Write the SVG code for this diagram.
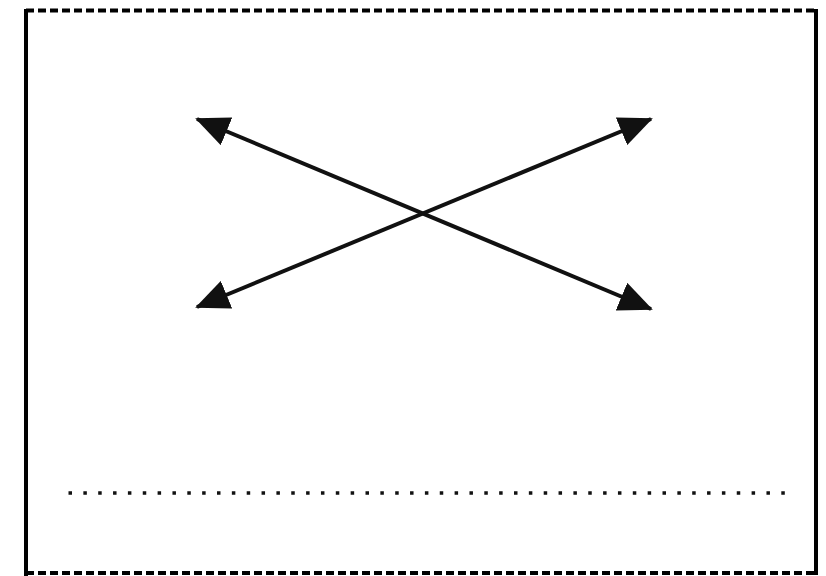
<svg xmlns="http://www.w3.org/2000/svg" width="826" height="576" viewBox="0 0 826 576">
<defs>
<style>
.solid{stroke:#000;stroke-width:4;fill:none}
.dash{stroke:#000;stroke-width:4;fill:none;stroke-dasharray:8 4}
.arrow{stroke:#111;stroke-width:4;fill:none;marker-start:url(#ah);marker-end:url(#ah)}
.dots{stroke:#111;stroke-width:3.5;fill:none;stroke-dasharray:3.5 11.35}
</style>
<marker id="ah" viewBox="0 0 34 30" refX="32" refY="15" markerWidth="34" markerHeight="30" markerUnits="userSpaceOnUse" orient="auto-start-reverse">
<path d="M0,0 L34,15 L0,30 z" fill="#111"/>
</marker>
</defs>
<rect width="826" height="576" fill="#fff"/>
<g id="frame">
<line class="dash" x1="26" y1="10.5" x2="818" y2="10.5"/>
<line class="dash" x1="26" y1="573" x2="818" y2="573"/>
<line class="solid" x1="26" y1="9" x2="26" y2="576"/>
<line class="solid" x1="816" y1="9" x2="816" y2="575"/>
</g>
<g id="connectors">
<line class="arrow" x1="197" y1="119" x2="651" y2="309"/>
<line class="arrow" x1="197" y1="307" x2="651" y2="119"/>
</g>
<g id="dotted-line">
<line class="dots" x1="68.5" y1="493" x2="785" y2="493"/>
</g>
</svg>
